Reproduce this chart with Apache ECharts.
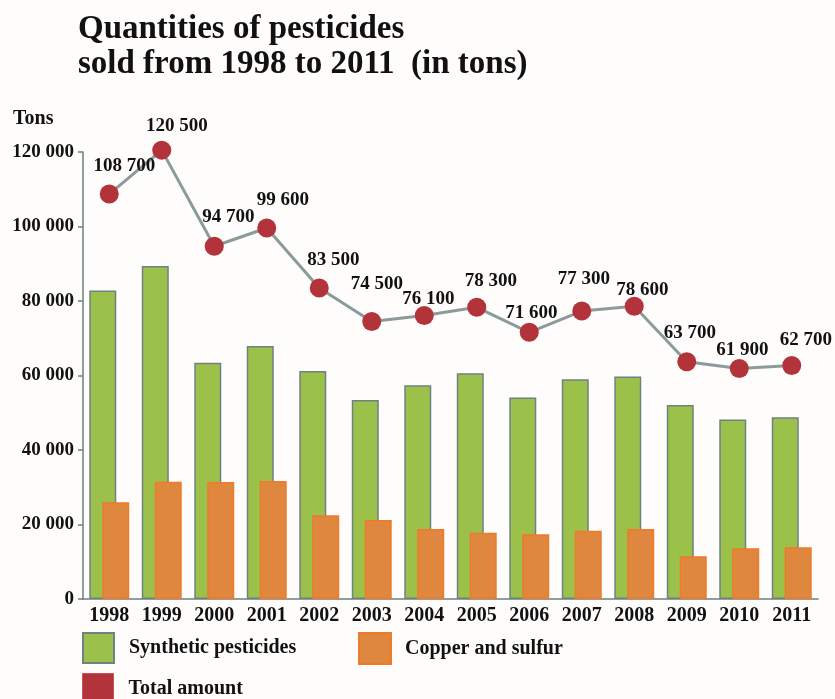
<!DOCTYPE html>
<html>
<head>
<meta charset="utf-8">
<title>Quantities of pesticides sold</title>
<script src="https://cdn.jsdelivr.net/npm/echarts@6/dist/echarts.min.js"></script>
<style>
  html, body { margin: 0; padding: 0; background: #fffdfb; }
  #chart { width: 835px; height: 699px; }
</style>
</head>
<body>
<div id="chart"></div>
<script>
// data
const years = ['1998','1999','2000','2001','2002','2003','2004','2005','2006','2007','2008','2009','2010','2011'];
const synthetic = [82800, 89400, 63400, 67900, 61200, 53400, 57400, 60600, 54100, 59000, 59700, 52100, 48200, 48800];
const copperSulfur = [26000, 31500, 31400, 31700, 22500, 21200, 18800, 17800, 17400, 18300, 18800, 11500, 13600, 13900];
const total = [108700, 120500, 94700, 99600, 83500, 74500, 76100, 78300, 71600, 77300, 78600, 63700, 61900, 62700];
const yTicks = [0, 20000, 40000, 60000, 80000, 100000, 120000];

// where each total label sits relative to its dot
const labelShift = [[15,-28],[15,-24],[14,-29],[16,-28],[14,-28],[5,-37],[4,-16],[14,-26],[2,-19],[2,-32],[8,-16],[3,-29],[3,-18],[14,-25]];

const serif = "'Liberation Serif', 'Times New Roman', serif";
const fmt = v => String(v).replace(/\B(?=(\d{3})+(?!\d))/g, ' ');
const legendText = { fontFamily: serif, fontWeight: 'bold', fontSize: 20, color: '#111' };

let chart = echarts.init(document.getElementById('chart'));
chart.setOption({
  backgroundColor: '#fffdfb',
  animation: false,
  title: [
    {
      text: 'Quantities of pesticides\nsold from 1998 to 2011  (in tons)',
      left: 73, top: 7,
      textStyle: { fontFamily: serif, fontWeight: 'bold', fontSize: 33, lineHeight: 35, color: '#111' }
    },
    {
      text: 'Tons',
      left: 8, top: 104,
      textStyle: { fontFamily: serif, fontWeight: 'bold', fontSize: 20, color: '#111' }
    }
  ],
  legend: [
    {
      left: 82, top: 632, padding: 0,
      itemWidth: 31, itemHeight: 30,
      icon: 'rect',
      textStyle: Object.assign({ padding: [0, 0, 0, 10] }, legendText),
      data: ['Synthetic pesticides']
    },
    {
      left: 82, top: 673, padding: 0,
      itemWidth: 31, itemHeight: 30,
      icon: 'rect',
      textStyle: Object.assign({ padding: [0, 0, 0, 10] }, legendText),
      data: [{ name: 'Total amount', itemStyle: { color: '#b3333b', borderColor: '#c9525a', borderWidth: 1 } }]
    },
    {
      left: 358, top: 632, padding: 0,
      itemWidth: 32, itemHeight: 31,
      icon: 'rect',
      textStyle: Object.assign({ padding: [0, 0, 0, 9] }, legendText),
      data: ['Copper and sulfur']
    }
  ],
  grid: { left: 83, right: 17, top: 152, bottom: 100 },
  xAxis: {
    type: 'category',
    data: years,
    axisLine: { lineStyle: { color: '#6c7f80', width: 1.5 } },
    axisTick: { show: false },
    axisLabel: { fontFamily: serif, fontWeight: 'bold', fontSize: 20, color: '#111', margin: 7 }
  },
  yAxis: {
    type: 'value',
    min: yTicks[0],
    max: yTicks[yTicks.length - 1],
    interval: yTicks[1] - yTicks[0],
    splitLine: { show: false },
    axisLine: { show: true, lineStyle: { color: '#6c7f80', width: 1.5 } },
    axisTick: { show: true, inside: false, length: 5, lineStyle: { color: '#6c7f80', width: 1.5 } },
    axisLabel: { fontFamily: serif, fontWeight: 'bold', fontSize: 19, color: '#111', margin: 9, formatter: fmt }
  },
  series: [
    {
      name: 'Synthetic pesticides',
      type: 'bar',
      barWidth: 27,
      barGap: '-52%',
      itemStyle: { color: '#9cc14b', borderColor: '#6f8283', borderWidth: 1.5 },
      data: synthetic
    },
    {
      name: 'Copper and sulfur',
      type: 'bar',
      barWidth: 27,
      itemStyle: { color: '#e0873f', borderColor: '#ee7a2a', borderWidth: 1.5 },
      data: copperSulfur
    },
    {
      name: 'Total amount',
      type: 'line',
      z: 5,
      clip: false,
      symbol: 'circle',
      symbolSize: 19,
      lineStyle: { color: '#8b9b9b', width: 3 },
      itemStyle: { color: '#b3333b' },
      label: {
        show: true,
        position: 'inside',
        fontFamily: serif, fontWeight: 'bold', fontSize: 19, color: '#111',
        formatter: p => fmt(p.value)
      },
      data: total.map((v, i) => ({ value: v, label: { offset: labelShift[i] } }))
    }
  ]
});
</script>
</body>
</html>
